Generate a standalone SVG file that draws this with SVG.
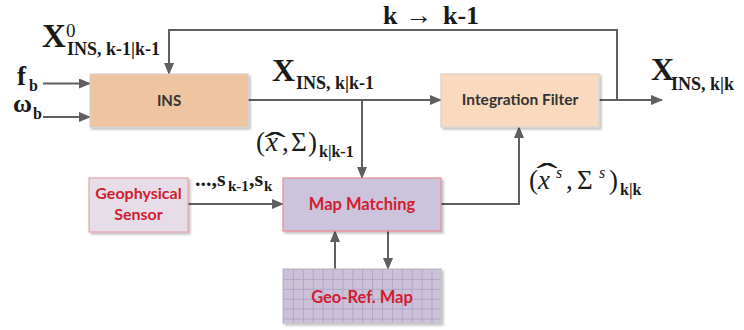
<svg xmlns="http://www.w3.org/2000/svg" width="744" height="330" viewBox="0 0 744 330">
  <defs>
    <marker id="arr" viewBox="0 0 12 10" refX="11" refY="5" markerWidth="12" markerHeight="10" markerUnits="userSpaceOnUse" orient="auto">
      <path d="M0,0 L12,5 L0,10 z" fill="#5f5f5f"/>
    </marker>
    <pattern id="grid" x="283" y="269" width="9.9" height="9.9" patternUnits="userSpaceOnUse">
      <rect width="9.9" height="9.9" fill="#cbc2da"/>
      <path d="M0,0.5 H9.9 M0.5,0 V9.9" stroke="#b1a4c6" stroke-width="1" fill="none"/>
    </pattern>
    <filter id="sh" x="-5%" y="-5%" width="115%" height="125%">
      <feDropShadow dx="2" dy="2" stdDeviation="1.2" flood-color="#000" flood-opacity="0.25"/>
    </filter>
  </defs>
  <style>
    .box { stroke-width: 1.2; filter: url(#sh); }
    .lbl { font-family: Lato, "Open Sans", sans-serif; font-weight: bold; text-anchor: middle; }
    .dark { fill: #333333; }
    .red { fill: #d0202f; }
    .math { font-family: "Liberation Serif", "Times New Roman", serif; font-weight: bold; fill: #1a1a1a; }
    .reg { font-weight: normal; }
    .it { font-style: italic; font-weight: normal; }
    .hat { font-family: "Liberation Serif", "Times New Roman", serif; fill: #1a1a1a; text-anchor: middle; }
    .con { fill: none; stroke: #5f5f5f; stroke-width: 2; }
  </style>

  <rect width="744" height="330" fill="#ffffff"/>

  <!-- connectors -->
  <g id="connectors">
    <path class="con" d="M43,83.5 H90" marker-end="url(#arr)"/>
    <path class="con" d="M43,117 H90" marker-end="url(#arr)"/>
    <path class="con" d="M248,100 H441" marker-end="url(#arr)"/>
    <path class="con" d="M362,100 V178" marker-end="url(#arr)"/>
    <path class="con" d="M599,100 H662" marker-end="url(#arr)"/>
    <path class="con" d="M617,100 V30 H169 V74" marker-end="url(#arr)"/>
    <path class="con" d="M188,204 H283" marker-end="url(#arr)"/>
    <path class="con" d="M441,204 H519 V127" marker-end="url(#arr)"/>
    <path class="con" d="M335,269 V231" marker-end="url(#arr)"/>
    <path class="con" d="M388,231 V269" marker-end="url(#arr)"/>
  </g>

  <!-- nodes -->
  <g id="ins">
    <rect class="box" x="90" y="74" width="158" height="53" fill="#efc4a1" stroke="#d6d0cc"/>
    <text class="lbl dark" x="169" y="106" font-size="15">INS</text>
  </g>

  <g id="integration-filter">
    <rect class="box" x="441" y="74" width="158" height="53" fill="#f9dabf" stroke="#d6d0cc"/>
    <text class="lbl dark" x="520" y="105" font-size="15.5">Integration Filter</text>
  </g>

  <g id="geophysical-sensor">
    <rect class="box" x="89" y="178" width="99" height="54" fill="#e6dde9" stroke="#e8a2a9"/>
    <text class="lbl red" x="138.5" y="199" font-size="16">Geophysical</text>
    <text class="lbl red" x="138.5" y="220" font-size="16">Sensor</text>
  </g>

  <g id="map-matching">
    <rect class="box" x="283" y="178" width="158" height="53" fill="#ccc4dc" stroke="#e98a93"/>
    <text class="lbl red" x="362" y="210" font-size="16.5">Map Matching</text>
  </g>

  <g id="geo-ref-map">
    <rect class="box" x="283" y="269" width="158" height="54" fill="url(#grid)" stroke="#c4c0c8"/>
    <text class="lbl red" x="362" y="303" font-size="16.5">Geo-Ref. Map</text>
  </g>

  <!-- signal labels -->
  <g id="labels">
    <text class="math" x="42" y="47" font-size="33">X</text>
    <text class="math reg" x="66" y="37" font-size="19">0</text>
    <text class="math" x="67" y="55" font-size="18">INS, k-1|k-1</text>

    <text class="math" x="17" y="85" font-size="27">f</text>
    <text class="math" x="29" y="91" font-size="16">b</text>
    <text class="math" x="13" y="112" font-size="26">ω</text>
    <text class="math" x="33" y="119" font-size="16">b</text>

    <text class="math" x="383" y="24" font-size="26">k</text>
    <text class="math reg" x="405" y="24" font-size="27">→</text>
    <text class="math" x="443" y="24" font-size="26">k-1</text>

    <text class="math" x="272" y="81" font-size="32">X</text>
    <text class="math" x="296" y="89" font-size="18">INS, k|k-1</text>

    <text class="math" x="651" y="80" font-size="32">X</text>
    <text class="math" x="671" y="90" font-size="18">INS, k|k</text>

    <!-- estimate and covariance from the INS prediction -->
    <text class="math reg" x="256" y="151" font-size="27">(</text>
    <text class="math it" x="266" y="151" font-size="27">x</text>
    <text class="hat" transform="translate(275,156) scale(1.9,1)" font-size="34">ˆ</text>
    <text class="math reg" x="282" y="151" font-size="27">,</text>
    <text class="math reg" x="291" y="151" font-size="27">Σ</text>
    <text class="math reg" x="308" y="151" font-size="27">)</text>
    <text class="math" x="319" y="157" font-size="16">k|k-1</text>

    <text class="math" x="195" y="186" font-size="22">...,s</text>
    <text class="math" x="228" y="191" font-size="15">k-1</text>
    <text class="math" x="249" y="186" font-size="22">,s</text>
    <text class="math" x="264" y="191" font-size="15">k</text>

    <!-- map-matching estimate -->
    <text class="math reg" x="529" y="189" font-size="27">(</text>
    <text class="math it" x="538" y="189" font-size="27">x</text>
    <text class="hat" transform="translate(547,187) scale(1.9,1)" font-size="34">ˆ</text>
    <text class="math it" x="556" y="178" font-size="16">s</text>
    <text class="math reg" x="566" y="189" font-size="27">,</text>
    <text class="math reg" x="577" y="189" font-size="27">Σ</text>
    <text class="math it" x="599" y="178" font-size="16">s</text>
    <text class="math reg" x="609" y="189" font-size="27">)</text>
    <text class="math" x="620" y="195" font-size="16">k|k</text>
  </g>
</svg>
